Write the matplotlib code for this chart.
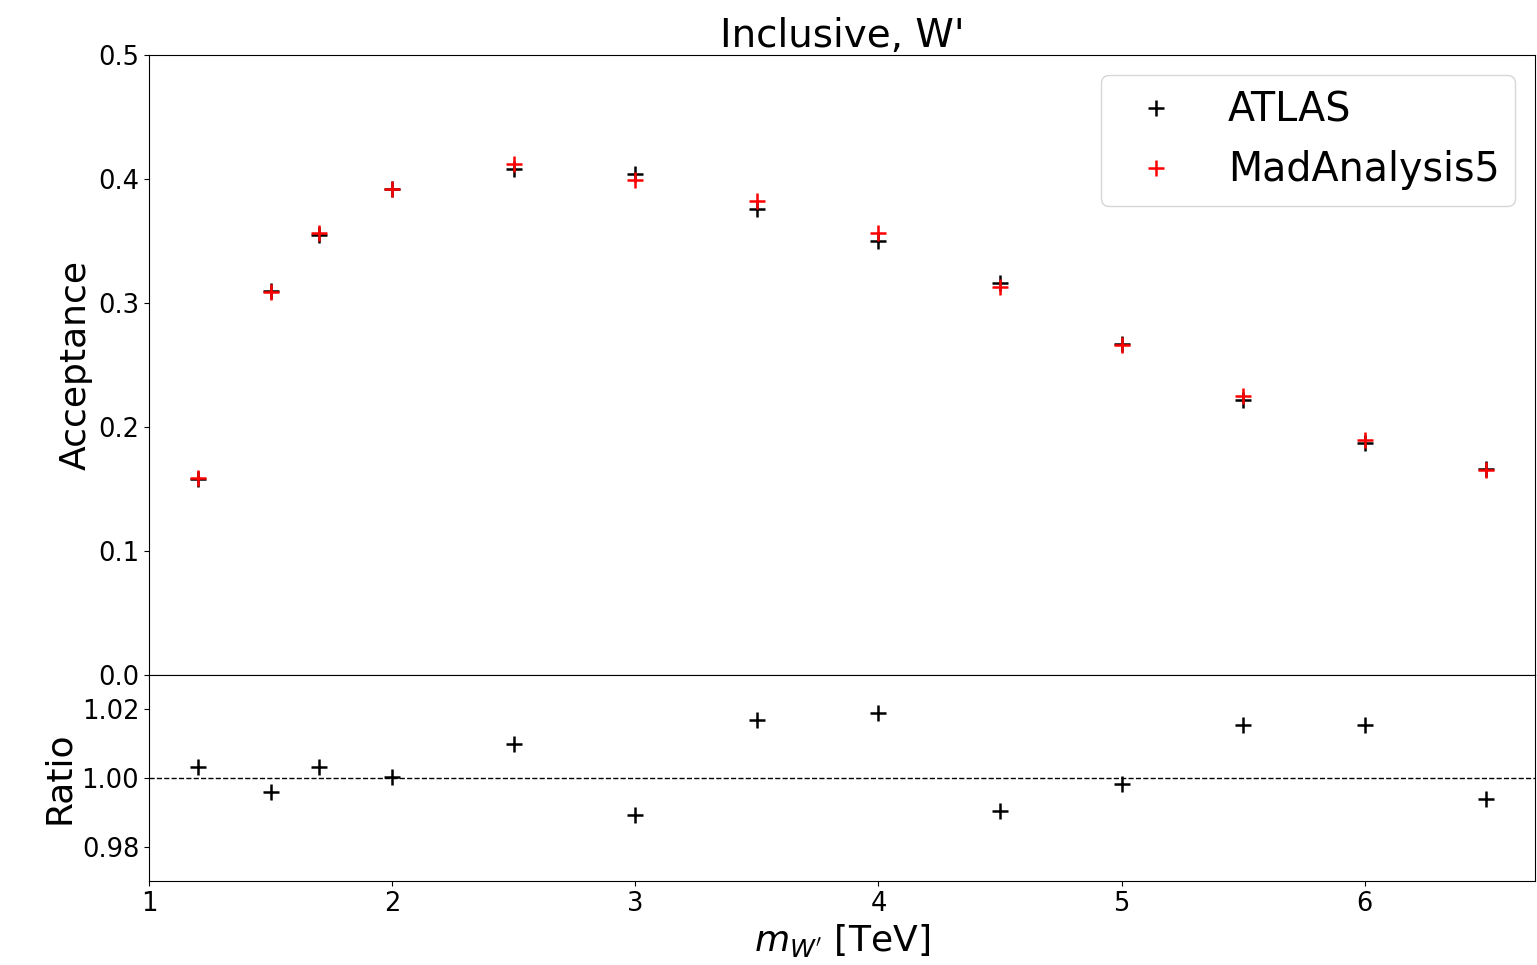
import numpy as np
import matplotlib
matplotlib.use("Agg")
import matplotlib.pyplot as plt

# W' mass points [TeV]
masses = [1.2, 1.5, 1.7, 2.0, 2.5, 3.0, 3.5, 4.0, 4.5, 5.0, 5.5, 6.0, 6.5]
# acceptances
acc_atlas = [0.158, 0.310, 0.355, 0.392, 0.408, 0.404, 0.376, 0.350, 0.316, 0.267, 0.222, 0.187, 0.166]
acc_ma5 = [0.1585, 0.3087, 0.3561, 0.3921, 0.4120, 0.3996, 0.3824, 0.3566, 0.3130, 0.2665, 0.2254, 0.1899, 0.1650]

ratio = np.array(acc_ma5) / np.array(acc_atlas)

fig = plt.figure(figsize=(15.37, 9.65), dpi=100)
ax = fig.add_axes([0.0969, 0.3005, 0.9018, 0.6425])
ax_r = fig.add_axes([0.0969, 0.087, 0.9018, 0.2135], sharex=ax)

ax.plot(masses, acc_atlas, "+", color="black", ms=11, mew=1.8, label="ATLAS")
ax.plot(masses, acc_ma5, "+", color="red", ms=11, mew=1.8, label="MadAnalysis5")
ax.set_ylim(0, 0.5)
ax.set_xlim(1, 6.7)
ax.set_ylabel("Acceptance", fontsize=26)
ax.set_title("Inclusive, W'", fontsize=28)
ax.tick_params(labelsize=18.5, labelbottom=False)
ax.legend(fontsize=28.5, loc="upper right")

ax_r.plot(masses, ratio, "+", color="black", ms=11, mew=1.8)
ax_r.axhline(1.0, color="black", ls="--", lw=1)
ax_r.set_ylim(0.97, 1.03)
ax_r.set_yticks([0.98, 1.00, 1.02])
ax_r.set_ylabel("Ratio", fontsize=26)
ax_r.set_xlabel(r"$m_{W'}$ [TeV]", fontsize=26)
ax_r.tick_params(labelsize=18.5)

fig.savefig("out.png", dpi=100)
